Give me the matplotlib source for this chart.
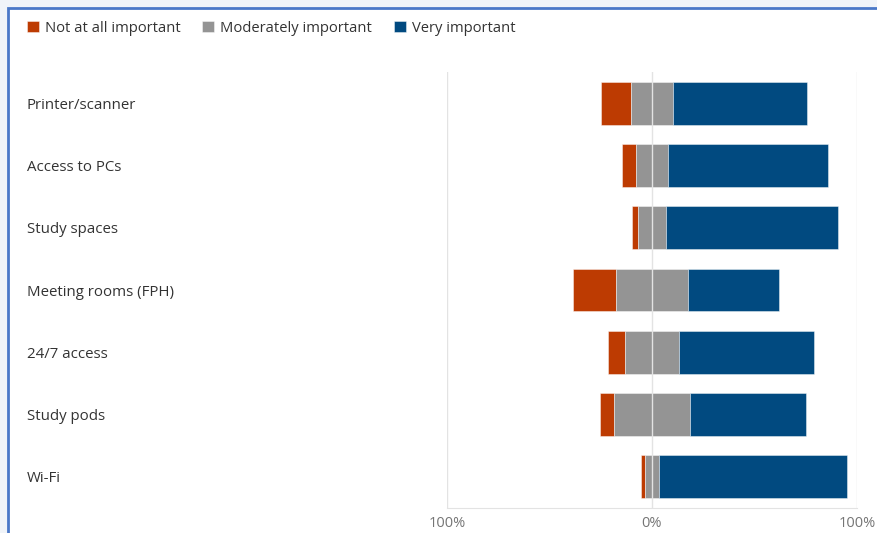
import numpy as np
import matplotlib
matplotlib.use("Agg")
import matplotlib.pyplot as plt
import matplotlib.patches as patches
import matplotlib.transforms as mtransforms

# Survey data (percent of responses)
categories = ["Printer/scanner", "Access to PCs", "Study spaces", "Meeting rooms (FPH)",
              "24/7 access", "Study pods", "Wi-Fi"]
not_at_all = [14.5, 7.0, 3.3, 21.0, 8.3, 7.0, 1.8]
moderately = [20.5, 15.3, 13.3, 34.8, 26.2, 36.7, 7.3]
very = [65.4, 78.0, 83.9, 44.5, 65.9, 56.6, 91.4]
series_names = ["Not at all important", "Moderately important", "Very important"]
tick_values = [-100, 0, 100]
tick_labels = ["100%", "0%", "100%"]

colors = ["#bd3b02", "#949494", "#014a80"]

plt.rcParams['font.family'] = ['Open Sans', 'DejaVu Sans']

W, H = 877, 533
fig = plt.figure(figsize=(W / 100, H / 100), dpi=100)
fig.patch.set_facecolor("#f0f4f9")

# white card with blue border (runs past right/bottom edges)
bg = fig.add_axes([0, 0, 1, 1], zorder=-5)
bg.set_axis_off()
bg.set_xlim(0, W)
bg.set_ylim(H, 0)
bg.add_patch(patches.Rectangle((8, 8), W + 20, H + 20, facecolor="white",
                               edgecolor="#4a78c8", linewidth=2))

ax = fig.add_axes([447 / W, (H - 508) / H, (857 - 447) / W, (508 - 72) / H], zorder=1)
ax.set_facecolor("none")

na = np.array(not_at_all)
mo = np.array(moderately)
ve = np.array(very)
y = np.arange(len(categories))

left_na = -mo / 2 - na
left_mo = -mo / 2
left_ve = mo / 2

h = 0.69
kw = dict(height=h, edgecolor=(1, 1, 1, 0.5), linewidth=0.6, zorder=2)
ax.barh(y, na, left=left_na, color=colors[0], label=series_names[0], **kw)
ax.barh(y, mo, left=left_mo, color=colors[1], label=series_names[1], **kw)
ax.barh(y, ve, left=left_ve, color=colors[2], label=series_names[2], **kw)

ax.set_xlim(-100, 100)
ax.set_ylim(len(categories) - 0.5, -0.5)

# gridlines
for v in tick_values:
    ax.axvline(v, color="#e3e3e3", linewidth=1, zorder=3 if v == 0 else 1)

for s in ["top", "right", "left"]:
    ax.spines[s].set_visible(False)
ax.spines["bottom"].set_color("#e3e3e3")

ax.set_yticks([])
ax.set_xticks(tick_values)
ax.set_xticklabels(tick_labels, color="#757575", fontsize=10.5)
ax.tick_params(axis="x", length=0, pad=6)

# category labels at left side of card
trans = mtransforms.blended_transform_factory(fig.transFigure, ax.transData)
trans = mtransforms.offset_copy(trans, fig=fig, y=-2, units="dots")
for yi, cat in zip(y, categories):
    ax.text(27 / W, yi, cat, transform=trans, ha="left", va="center",
            fontsize=10.8, color="#333333")

fig.legend(loc="upper left", bbox_to_anchor=(21 / W, 1 - 15 / H), ncol=3, frameon=False,
           fontsize=10.6, handlelength=0.8, handleheight=0.8, handletextpad=0.4,
           columnspacing=1.5, labelcolor="#333333", borderaxespad=0)

fig.savefig("out.png", dpi=100, facecolor=fig.get_facecolor())
